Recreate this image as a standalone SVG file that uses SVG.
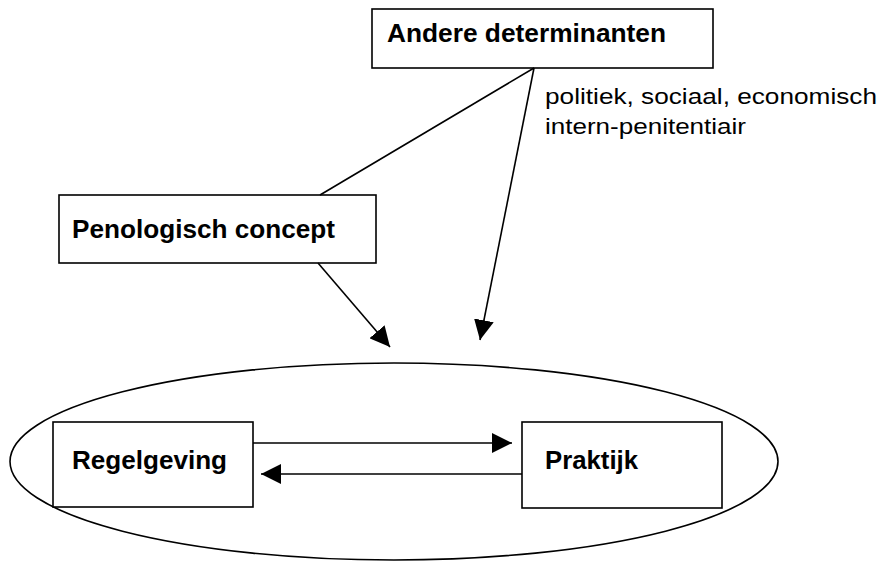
<svg xmlns="http://www.w3.org/2000/svg" width="882" height="563" viewBox="0 0 882 563">
<style>
.box{fill:#fff;stroke:#000;stroke-width:1.6}
.t{font-family:"Liberation Sans",Arial,sans-serif;font-weight:bold;font-size:25px;fill:#000}
.n{font-family:"Liberation Sans",Arial,sans-serif;font-size:22px;fill:#000}
.c{stroke:#000;stroke-width:1.6;fill:none}
</style>
<defs>
<marker id="ah" markerUnits="userSpaceOnUse" markerWidth="20" markerHeight="20" refX="20" refY="10" orient="auto">
<path d="M0,0 L20,10 L0,20 z" fill="#000"/>
</marker>
</defs>
<rect width="882" height="563" fill="#fff"/>
<g id="system">
<ellipse cx="394" cy="461.5" rx="384" ry="98.5" fill="none" stroke="#000" stroke-width="1.6"/>
</g>
<g id="andere">
<rect class="box" x="372" y="9" width="341" height="59"/>
<text class="t" x="387" y="42" textLength="279" lengthAdjust="spacingAndGlyphs">Andere determinanten</text>
</g>
<g id="label">
<text class="n" x="545" y="104" textLength="332" lengthAdjust="spacingAndGlyphs">politiek, sociaal, economisch</text>
<text class="n" x="545" y="134" textLength="201" lengthAdjust="spacingAndGlyphs">intern-penitentiair</text>
</g>
<g id="penologisch">
<rect class="box" x="59" y="195" width="317" height="68"/>
<text class="t" x="72" y="238" textLength="263" lengthAdjust="spacingAndGlyphs">Penologisch concept</text>
</g>
<g id="regelgeving">
<rect class="box" x="53" y="422" width="200" height="85"/>
<text class="t" x="72" y="469" textLength="155" lengthAdjust="spacingAndGlyphs">Regelgeving</text>
</g>
<g id="praktijk">
<rect class="box" x="522" y="422" width="200" height="86"/>
<text class="t" x="545" y="469" textLength="93" lengthAdjust="spacingAndGlyphs">Praktijk</text>
</g>
<g id="connectors">
<line class="c" x1="534" y1="68" x2="320" y2="195"/>
<line class="c" x1="534" y1="68" x2="480" y2="340" marker-end="url(#ah)"/>
<line class="c" x1="318" y1="263" x2="390" y2="347" marker-end="url(#ah)"/>
<line class="c" x1="253" y1="443" x2="512" y2="443" marker-end="url(#ah)"/>
<line class="c" x1="522" y1="474" x2="261" y2="474" marker-end="url(#ah)"/>
</g>
</svg>
